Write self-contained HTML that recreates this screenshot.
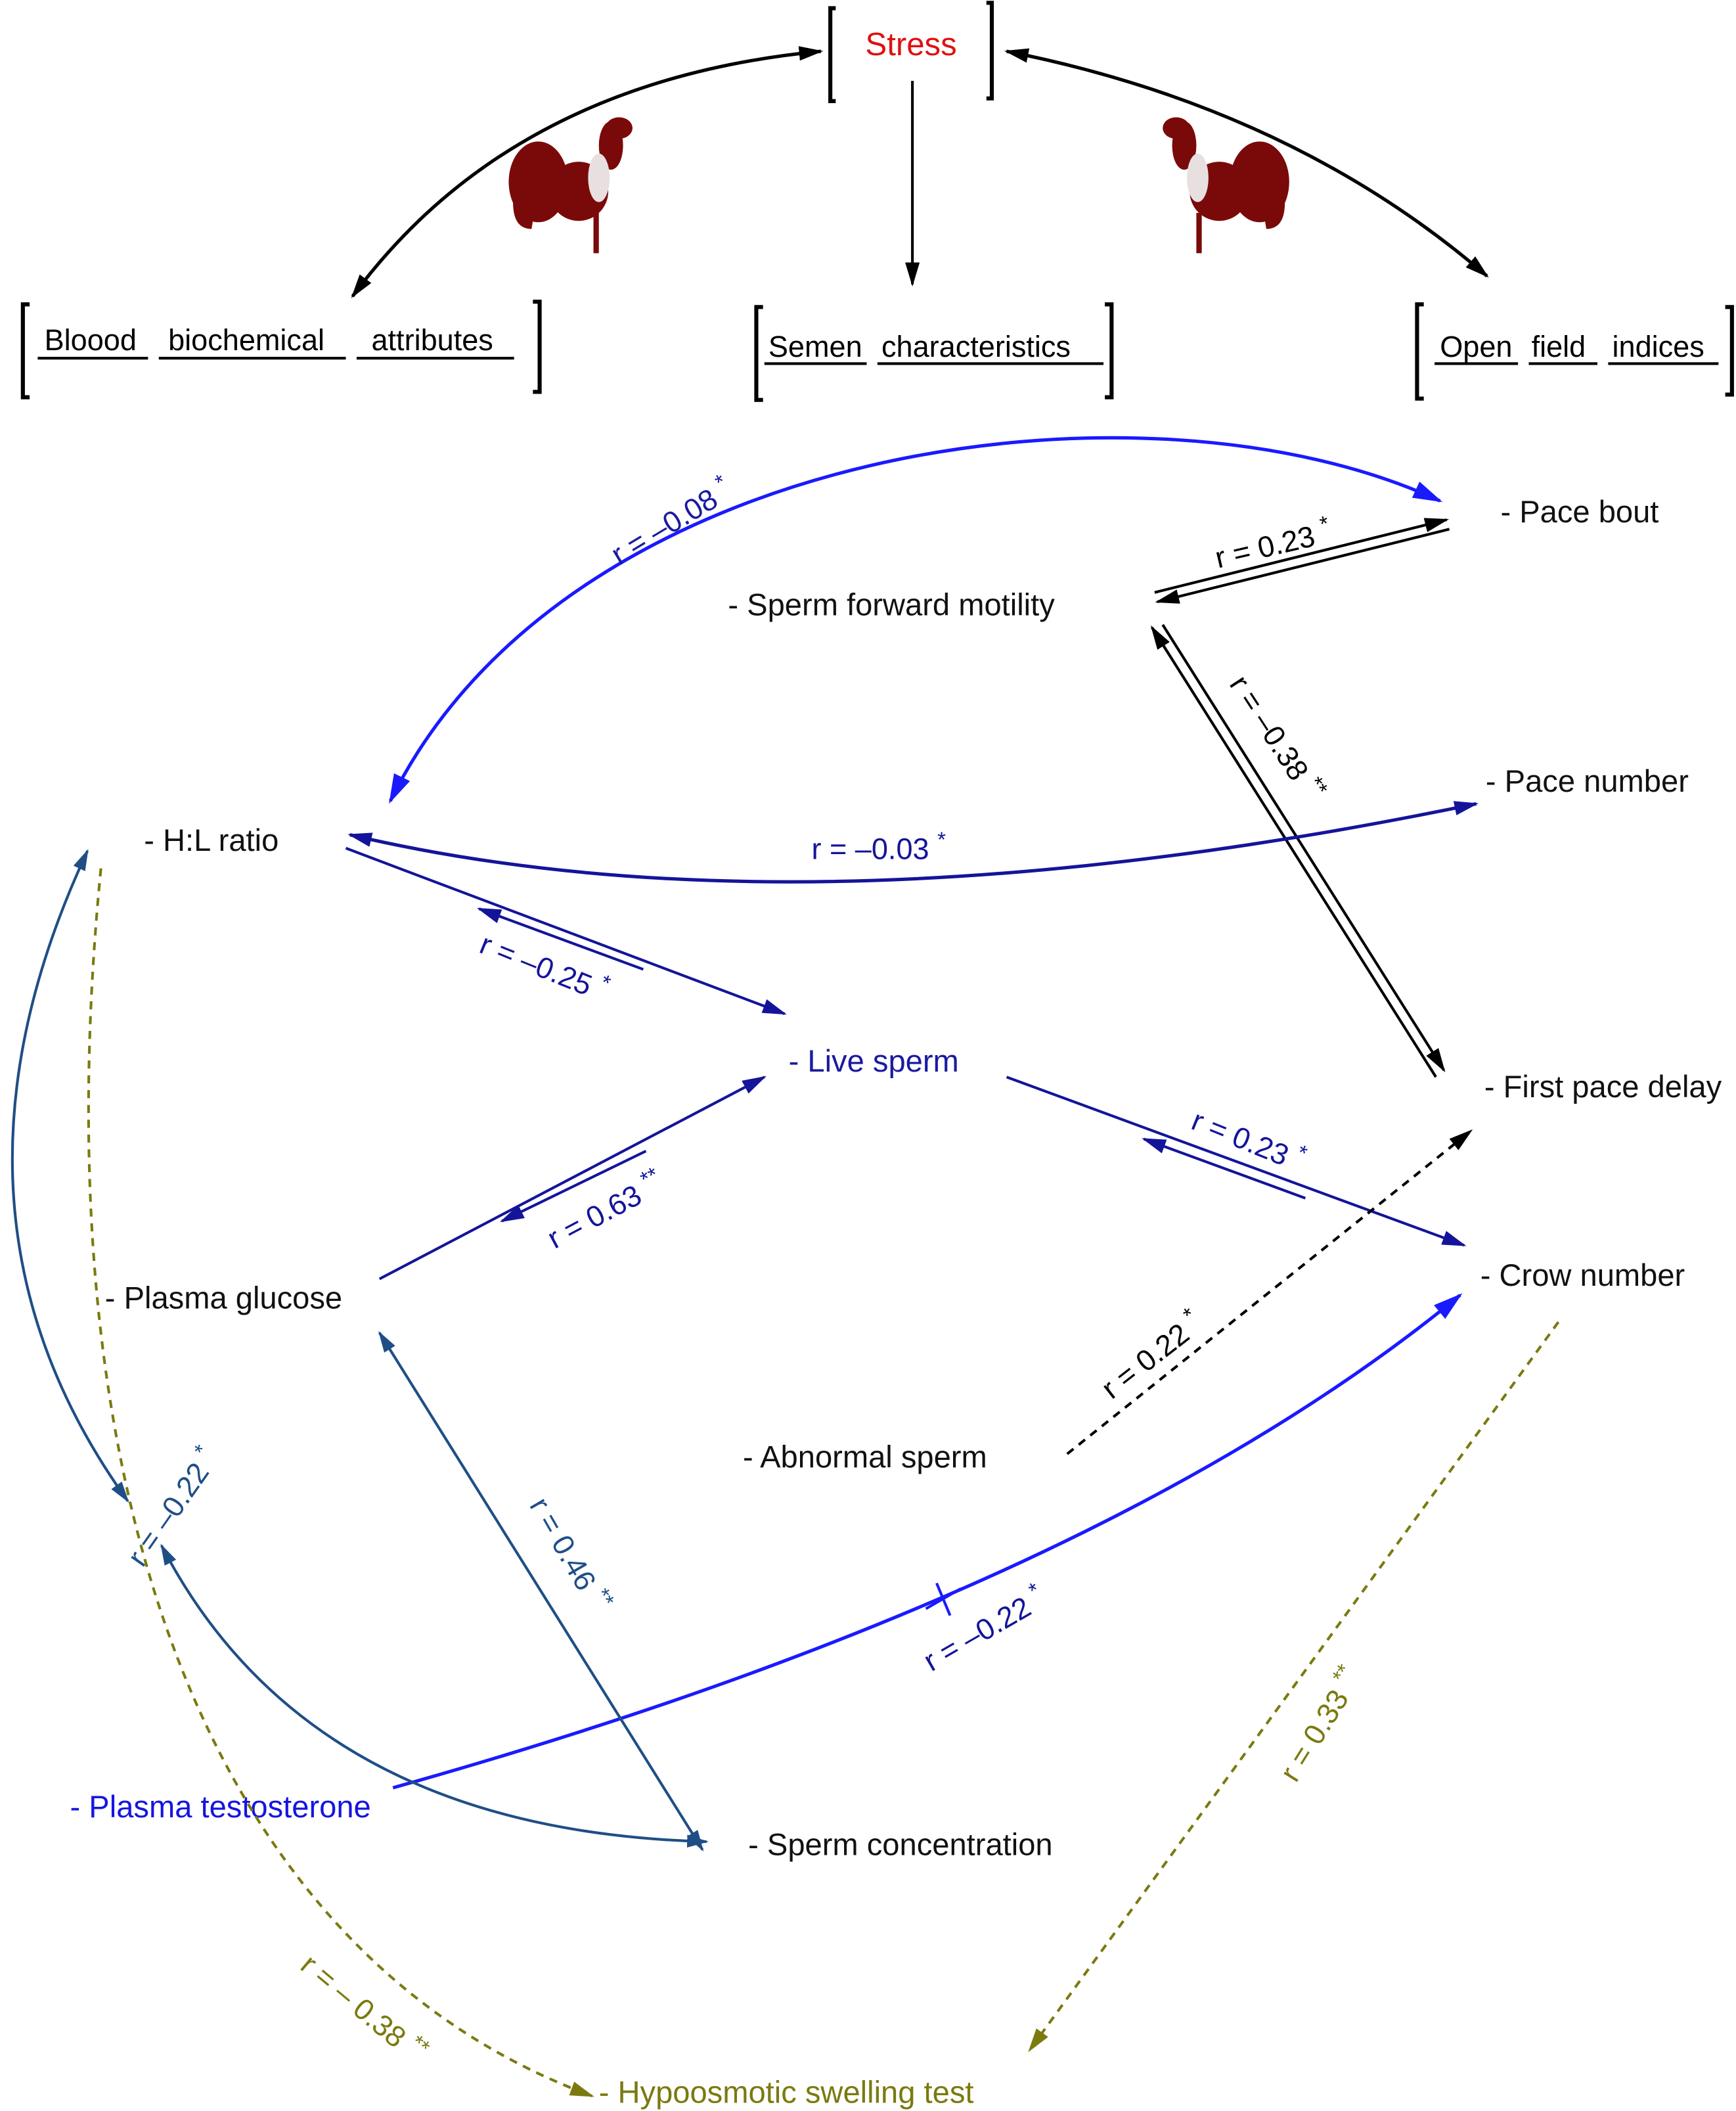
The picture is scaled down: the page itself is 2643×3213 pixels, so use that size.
<!DOCTYPE html>
<html><head><meta charset="utf-8"><style>html,body{margin:0;padding:0;background:#fff}svg{display:block}text{font-family:"Liberation Sans",Arial,sans-serif}</style></head>
<body>
<svg width="2643" height="3213" viewBox="0 0 1290 1568" xmlns="http://www.w3.org/2000/svg">
<defs>
<marker id="mkb" viewBox="0 0 10 10" refX="9" refY="5" markerWidth="18" markerHeight="18" orient="auto-start-reverse" markerUnits="userSpaceOnUse"><path d="M0,2 L10,5 L0,8 Z" fill="#000"/></marker>
<marker id="mblue" viewBox="0 0 10 10" refX="9" refY="5" markerWidth="22" markerHeight="22" orient="auto-start-reverse" markerUnits="userSpaceOnUse"><path d="M0,2 L10,5 L0,8 Z" fill="#1a1aff"/></marker>
<marker id="mnavy" viewBox="0 0 10 10" refX="9" refY="5" markerWidth="18" markerHeight="18" orient="auto-start-reverse" markerUnits="userSpaceOnUse"><path d="M0,2 L10,5 L0,8 Z" fill="#14149a"/></marker>
<marker id="msteel" viewBox="0 0 10 10" refX="9" refY="5" markerWidth="16" markerHeight="16" orient="auto-start-reverse" markerUnits="userSpaceOnUse"><path d="M0,2 L10,5 L0,8 Z" fill="#1f4e86"/></marker>
<marker id="molive" viewBox="0 0 10 10" refX="9" refY="5" markerWidth="18" markerHeight="18" orient="auto-start-reverse" markerUnits="userSpaceOnUse"><path d="M0,2 L10,5 L0,8 Z" fill="#7a7a10"/></marker>
</defs>

<!-- Stress -->
<path d="M621,6 H617 V75 H621" fill="none" stroke="#000" stroke-width="3"/>
<path d="M733,2 H737 V73 H733" fill="none" stroke="#000" stroke-width="3"/>
<text x="677" y="41" font-size="24" fill="#e01010" text-anchor="middle">Stress</text>
<path d="M262,220 Q380,60 610,38" fill="none" stroke="#000" stroke-width="2.5" marker-start="url(#mkb)" marker-end="url(#mkb)"/>
<path d="M748,38 Q960,80 1105,205" fill="none" stroke="#000" stroke-width="2.5" marker-start="url(#mkb)" marker-end="url(#mkb)"/>
<line x1="678" y1="60" x2="678" y2="211" stroke="#000" stroke-width="2" marker-end="url(#mkb)"/>

<!-- roosters -->
<g fill="#7a0a0a">
<ellipse cx="400" cy="135" rx="22" ry="30"/><ellipse cx="430" cy="142" rx="22" ry="22"/><ellipse cx="454" cy="108" rx="9" ry="18"/><ellipse cx="460" cy="95" rx="10" ry="8"/>
<path d="M382,140 Q378,170 395,170 L400,140Z"/>
<rect x="441" y="158" width="4" height="30"/>
<ellipse cx="445" cy="132" rx="8" ry="18" fill="#e8e0e0"/>
<ellipse cx="936" cy="135" rx="22" ry="30"/><ellipse cx="906" cy="142" rx="22" ry="22"/><ellipse cx="880" cy="108" rx="9" ry="18"/><ellipse cx="874" cy="95" rx="10" ry="8"/>
<path d="M954,140 Q958,170 941,170 L936,140Z"/>
<rect x="889" y="158" width="4" height="30"/>
<ellipse cx="890" cy="132" rx="8" ry="18" fill="#e8e0e0"/>
</g>

<!-- category brackets -->
<g fill="none" stroke="#000" stroke-width="3">
<path d="M22,226 H17 V295 H22"/><path d="M396,224 H401 V291 H396"/>
<path d="M567,228 H562 V297 H567"/><path d="M821,226 H826 V295 H821"/>
<path d="M1058,226 H1053 V296 H1058"/><path d="M1282,228 H1287 V293 H1282"/>
</g>
<g font-size="22" fill="#000">
<text x="33" y="260">Bloood</text><text x="125" y="260">biochemical</text><text x="276" y="260">attributes</text>
<text x="571" y="265">Semen</text><text x="655" y="265">characteristics</text>
<text x="1070" y="265">Open</text><text x="1138" y="265">field</text><text x="1198" y="265">indices</text>
</g>
<g stroke="#000" stroke-width="2">
<line x1="28" y1="266" x2="110" y2="266"/><line x1="118" y1="266" x2="257" y2="266"/><line x1="265" y1="266" x2="382" y2="266"/>
<line x1="568" y1="270" x2="644" y2="270"/><line x1="652" y1="270" x2="820" y2="270"/>
<line x1="1066" y1="270" x2="1128" y2="270"/><line x1="1136" y1="270" x2="1187" y2="270"/><line x1="1195" y1="270" x2="1277" y2="270"/>
</g>

<!-- nodes -->
<g font-size="23" fill="#111">
<text x="1115" y="388">- Pace bout</text>
<text x="541" y="457">- Sperm forward motility</text>
<text x="1104" y="588">- Pace number</text>
<text x="107" y="632">- H:L ratio</text>
<text x="586" y="796" fill="#1a1aa0">- Live sperm</text>
<text x="1103" y="815">- First pace delay</text>
<text x="78" y="972">- Plasma glucose</text>
<text x="1100" y="955">- Crow number</text>
<text x="552" y="1090">- Abnormal sperm</text>
<text x="52" y="1350" fill="#1515e0">- Plasma testosterone</text>
<text x="556" y="1378">- Sperm concentration</text>
<text x="445" y="1562" fill="#7a7a10">- Hypoosmotic swelling test</text>
</g>

<!-- blue big curve -->
<path d="M290,595 C420,330 850,270 1070,372" fill="none" stroke="#1a1aff" stroke-width="2.5" marker-start="url(#mblue)" marker-end="url(#mblue)"/>
<text transform="translate(460,420) rotate(-31)" font-size="22" fill="#1a1aa0">r = –0.08 <tspan dy="-9" font-size="16">*</tspan></text>

<!-- pace bout / sperm forward motility -->
<line x1="858" y1="440" x2="1075" y2="386" stroke="#000" stroke-width="2" marker-end="url(#mkb)"/>
<line x1="1077" y1="393" x2="860" y2="447" stroke="#000" stroke-width="2" marker-end="url(#mkb)"/>
<text transform="translate(905,422) rotate(-13)" font-size="22" fill="#000">r = 0.23 <tspan dy="-9" font-size="16">*</tspan></text>

<!-- sperm motility / first pace delay -->
<line x1="1067" y1="800" x2="856" y2="466" stroke="#000" stroke-width="2" marker-end="url(#mkb)"/>
<line x1="864" y1="464" x2="1073" y2="795" stroke="#000" stroke-width="2" marker-end="url(#mkb)"/>
<text transform="translate(913,508) rotate(57)" font-size="22" fill="#000">r = –0.38 <tspan dy="-9" font-size="16">**</tspan></text>

<!-- H:L / pace number -->
<path d="M260,620 Q600,700 1097,597" fill="none" stroke="#14149a" stroke-width="2.5" marker-start="url(#mnavy)" marker-end="url(#mnavy)"/>
<text x="603" y="638" font-size="22" fill="#14149a">r = –0.03 <tspan dy="-9" font-size="16">*</tspan></text>

<!-- H:L / live sperm -->
<line x1="257" y1="630" x2="583" y2="753" stroke="#14149a" stroke-width="2" marker-end="url(#mnavy)"/>
<line x1="478" y1="720" x2="356" y2="675" stroke="#14149a" stroke-width="2" marker-end="url(#mnavy)"/>
<text transform="translate(355,707) rotate(22)" font-size="22" fill="#14149a">r = –0.25 <tspan dy="-9" font-size="16">*</tspan></text>

<!-- glucose / live sperm -->
<line x1="282" y1="950" x2="568" y2="800" stroke="#14149a" stroke-width="2" marker-end="url(#mnavy)"/>
<line x1="480" y1="855" x2="373" y2="907" stroke="#14149a" stroke-width="2" marker-end="url(#mnavy)"/>
<text transform="translate(412,928) rotate(-28)" font-size="22" fill="#14149a">r = 0.63 <tspan dy="-9" font-size="16">**</tspan></text>

<!-- live sperm / crow -->
<line x1="748" y1="800" x2="1088" y2="925" stroke="#14149a" stroke-width="2" marker-end="url(#mnavy)"/>
<line x1="970" y1="890" x2="850" y2="846" stroke="#14149a" stroke-width="2" marker-end="url(#mnavy)"/>
<text transform="translate(884,838) rotate(22)" font-size="22" fill="#14149a">r = 0.23 <tspan dy="-9" font-size="16">*</tspan></text>

<!-- abnormal / first pace -->
<line x1="793" y1="1080" x2="1093" y2="840" stroke="#000" stroke-width="2" stroke-dasharray="6,5" marker-end="url(#mkb)"/>
<text transform="translate(826,1040) rotate(-38)" font-size="22" fill="#000">r = 0.22 <tspan dy="-9" font-size="16">*</tspan></text>

<!-- testosterone / crow -->
<path d="M292,1328 Q820,1180 1085,962" fill="none" stroke="#1a1aff" stroke-width="2.5" marker-end="url(#mblue)"/>
<path d="M688,1195 L714,1180 M696,1176 L706,1200" stroke="#1a1aff" stroke-width="2"/>
<text transform="translate(692,1242) rotate(-30)" font-size="22" fill="#14149a">r = –0.22 <tspan dy="-9" font-size="16">*</tspan></text>

<!-- glucose / sperm concentration -->
<line x1="282" y1="990" x2="522" y2="1374" stroke="#1f4e86" stroke-width="2" marker-start="url(#msteel)" marker-end="url(#msteel)"/>
<text transform="translate(393,1118) rotate(60)" font-size="22" fill="#1f4e86">r = 0.46 <tspan dy="-9" font-size="16">**</tspan></text>

<!-- H:L / r=-0.22 curve -->
<path d="M95,1115 Q-60,900 65,632" fill="none" stroke="#1f4e86" stroke-width="2" marker-start="url(#msteel)" marker-end="url(#msteel)"/>
<path d="M120,1148 Q230,1360 525,1368" fill="none" stroke="#1f4e86" stroke-width="2" marker-start="url(#msteel)" marker-end="url(#msteel)"/>
<text transform="translate(106,1165) rotate(-55)" font-size="22" fill="#1f4e86">r = –0.22 <tspan dy="-9" font-size="16">*</tspan></text>

<!-- olive dashed -->
<path d="M75,645 C30,1100 150,1450 440,1557" fill="none" stroke="#7a7a10" stroke-width="2" stroke-dasharray="6,5" marker-end="url(#molive)"/>
<text transform="translate(222,1462) rotate(40)" font-size="22" fill="#7a7a10">r = – 0.38 <tspan dy="-9" font-size="16">**</tspan></text>
<line x1="1158" y1="982" x2="765" y2="1523" stroke="#7a7a10" stroke-width="2" stroke-dasharray="6,5" marker-end="url(#molive)"/>
<text transform="translate(963,1325) rotate(-58)" font-size="22" fill="#7a7a10">r = 0.33 <tspan dy="-9" font-size="16">**</tspan></text>
</svg>
</body></html>
